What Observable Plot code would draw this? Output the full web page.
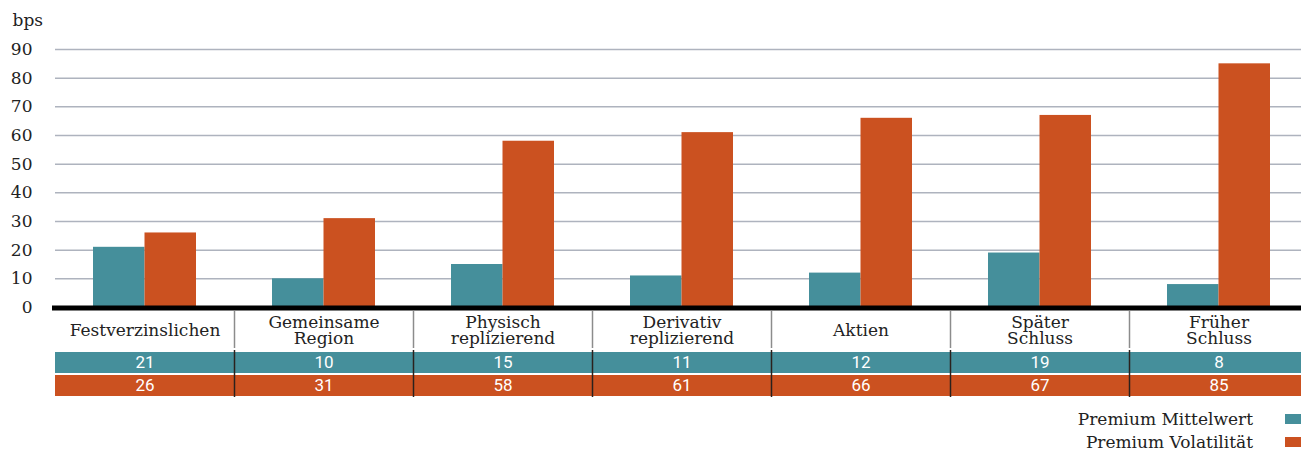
<!DOCTYPE html>
<html>
<head>
<meta charset="utf-8">
<script src="https://cdn.jsdelivr.net/npm/d3@7"></script>
<script src="https://cdn.jsdelivr.net/npm/@observablehq/plot@0.6"></script>
<style>
  html, body { margin: 0; padding: 0; background: #fff; overflow: hidden; }
  #chart { position: relative; width: 1301px; height: 450px; overflow: hidden; }
  #chart svg { display: block; max-width: none; }
  .legend { position: absolute; top: 407px; left: 0; width: 1301px; font-family: "DejaVu Serif", serif; font-size: 17px; color: #222; }
  .legend-row { display: flex; justify-content: flex-end; align-items: center; height: 23px; }
  .legend-swatch { width: 16px; height: 10px; margin-left: 32px; }
</style>
</head>
<body>
<div id="chart"></div>
<script>
// Premium components per fund category, in basis points
const categories = [
  "Festverzinslichen",
  "Gemeinsame\nRegion",
  "Physisch\nreplizierend",
  "Derivativ\nreplizierend",
  "Aktien",
  "Später\nSchluss",
  "Früher\nSchluss"
];
const seriesNames = ["Premium Mittelwert", "Premium Volatilität"];
const premiumMittelwert = [21, 10, 15, 11, 12, 19, 8];
const premiumVolatilitaet = [26, 31, 58, 61, 66, 67, 85];
const yTicks = [0, 10, 20, 30, 40, 50, 60, 70, 80, 90];
const unitLabel = "bps";
const seriesColors = ["#458f9b", "#cb5120"];

const SERIF = "'DejaVu Serif', serif";
const SANS = "Roboto, sans-serif";

// Layout
const W = 1308;           // plot runs slightly past the window edge
const ML = 55;            // left margin for the y axis
const colW = (W - ML) / categories.length;
const barGap = 38;        // space between column edge and the outer bar edge

const rows = categories.flatMap((category, i) => [
  {category, series: seriesNames[0], value: premiumMittelwert[i]},
  {category, series: seriesNames[1], value: premiumVolatilitaet[i]}
]);

const xScale = {type: "band", domain: categories, padding: 0, axis: null};
const colorScale = {domain: seriesNames, range: seriesColors};
const baseStyle = {fontFamily: SERIF, fontSize: "17px", color: "#222", background: "#fff", overflow: "visible"};

// Bar chart
const chart = Plot.plot({
  width: W, height: 310,
  marginLeft: ML, marginRight: 0, marginTop: 49, marginBottom: 3,
  style: baseStyle,
  x: xScale,
  y: {domain: [0, 90]},
  color: colorScale,
  marks: [
    Plot.gridY(yTicks.filter(t => t > 0), {stroke: "#aeb3be", strokeOpacity: 1, strokeWidth: 1.5}),
    Plot.axisY(yTicks, {tickSize: 0, tickPadding: 23, label: null, fontSize: 17, fontFamily: SERIF, fill: "#222"}),
    Plot.text([unitLabel], {frameAnchor: "top-left", dx: -43, dy: -29, textAnchor: "start", lineAnchor: "middle", fontSize: 17, fontFamily: SERIF, fill: "#222"}),
    Plot.barY(rows.filter(d => d.series === seriesNames[0]), {
      x: "category", y: "value", fill: "series", insetLeft: barGap, insetRight: colW / 2
    }),
    Plot.barY(rows.filter(d => d.series === seriesNames[1]), {
      x: "category", y: "value", fill: "series", insetLeft: colW / 2, insetRight: barGap
    }),
    Plot.ruleY([0], {stroke: "#000", strokeWidth: 5, dy: 0.5, insetLeft: -3})
  ]
});

// Category header row of the data table
const header = Plot.plot({
  width: W, height: 40,
  marginLeft: ML, marginRight: 0, marginTop: 0, marginBottom: 0,
  style: baseStyle,
  x: xScale,
  marks: [
    Plot.ruleX(categories.slice(1), {x: d => d, dx: -colW / 2, stroke: "#8c8c8c", strokeWidth: 1.5, insetTop: 1, insetBottom: 2}),
    Plot.text(categories, {x: d => d, frameAnchor: "middle", lineAnchor: "middle", lineHeight: 0.95, fontSize: 17, fontFamily: SERIF, fill: "#222"})
  ]
});

// Value rows of the data table
const table = Plot.plot({
  width: W, height: 47,
  marginLeft: ML, marginRight: 0, marginTop: 0, marginBottom: 0,
  style: baseStyle,
  x: xScale,
  y: {domain: seriesNames, padding: 0, axis: null},
  color: colorScale,
  marks: [
    Plot.cell(rows, {x: "category", y: "series", fill: "series", insetTop: 1, insetBottom: 1}),
    Plot.text(rows, {x: "category", y: "series", text: d => String(d.value), fill: "#fff", fontFamily: SANS, fontSize: 17}),
    Plot.ruleX(categories.slice(1), {x: d => d, dx: -colW / 2, stroke: "#2b211d", strokeWidth: 1.5})
  ]
});

const root = document.getElementById("chart");
root.append(chart, header, table);

// Legend, right aligned below the table
const legend = document.createElement("div");
legend.className = "legend";
seriesNames.forEach((name, i) => {
  const row = document.createElement("div");
  row.className = "legend-row";
  const label = document.createElement("span");
  label.textContent = name;
  const sw = document.createElement("span");
  sw.className = "legend-swatch";
  sw.style.background = seriesColors[i];
  row.append(label, sw);
  legend.append(row);
});
root.append(legend);
</script>
</body>
</html>
